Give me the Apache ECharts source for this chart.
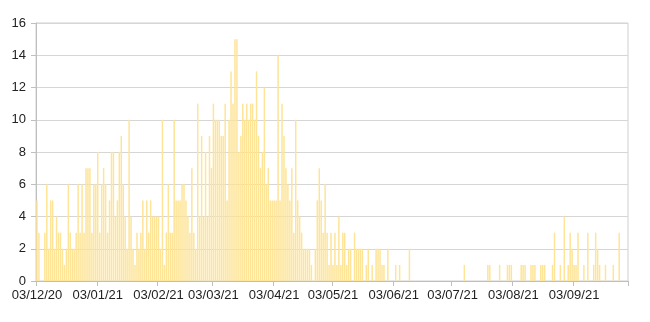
<!DOCTYPE html>
<html>
<head>
<meta charset="utf-8">
<script src="https://cdn.jsdelivr.net/npm/echarts@6/dist/echarts.min.js"></script>
<style>
html,body{margin:0;padding:0;background:#fff;}
#chart{width:650px;height:322px;}
</style>
</head>
<body>
<div id="chart"></div>
<script>
// Daily values from 03/12/2020 to 30/09/2021
var startDate = [2020, 11, 3]; // year, month index, day
var counts = [
5,3,0,0,3,6,2,5,5,2,
4,3,3,2,1,2,6,3,2,2,
3,6,3,6,3,7,7,7,3,6,
6,8,3,6,7,6,3,5,8,8,
4,5,8,9,6,4,2,10,4,2,
1,3,2,3,5,2,5,3,5,4,
4,4,4,2,10,1,3,6,3,3,
10,5,5,5,6,6,5,4,3,7,
3,2,11,4,9,4,8,4,9,7,
11,10,10,10,9,9,11,5,10,13,
11,15,15,8,9,11,10,11,10,11,
11,10,13,9,7,8,12,6,7,5,
5,5,5,14,5,11,9,7,6,5,
7,3,10,5,4,3,2,2,2,2,
1,0,2,5,7,5,3,6,3,1,
3,1,3,1,4,1,3,3,1,2,
2,0,3,2,2,2,2,0,1,2,
0,1,0,2,2,2,1,1,0,2,
0,0,0,1,0,1,0,0,0,0,
2,0,0,0,0,0,0,0,0,0,
0,0,0,0,0,0,0,0,0,0,
0,0,0,0,0,0,0,0,1,0,
0,0,0,0,0,0,0,0,0,0,
1,1,0,0,0,0,1,0,0,0,
1,1,1,0,0,0,0,1,1,1,
0,0,1,1,1,0,0,1,1,1,
0,0,0,1,3,0,0,1,0,4,
0,1,3,2,1,1,3,0,0,1,
0,3,0,0,1,3,2,1,0,0,
1,0,0,0,1,0,0,3,0,0,
0,0
];
var yTicks = [0,2,4,6,8,10,12,14,16];

function pad(n){return (n<10?'0':'')+n;}
var categories = [];
for (var i = 0; i < counts.length; i++) {
  var dt = new Date(startDate[0], startDate[1], startDate[2] + i);
  categories.push(pad(dt.getDate()) + '/' + pad(dt.getMonth()+1) + '/' + String(dt.getFullYear()).slice(2));
}
function isTick(idx){ return categories[idx].slice(0,3) === '03/'; }

var chart = echarts.init(document.getElementById('chart'), null, {renderer:'canvas'});
chart.setOption({
  animation: false,
  backgroundColor: '#ffffff',
  grid: {left: 36, right: 22, top: 23, bottom: 41, show: true, borderColor: '#d0d0d0', borderWidth: 1},
  xAxis: {
    type: 'category',
    data: categories,
    boundaryGap: true,
    axisLine: {show: true, lineStyle: {color: '#bfbfbf', width: 1}},
    axisTick: {show: true, interval: function(idx){return isTick(idx);}, length: 5, lineStyle: {color: '#bfbfbf'}},
    axisLabel: {interval: function(idx){return isTick(idx);}, color: '#222', fontFamily: 'Liberation Sans, Arial, sans-serif', fontSize: 13, margin: 8},
    splitLine: {show: false}
  },
  yAxis: {
    type: 'value',
    min: yTicks[0],
    max: yTicks[yTicks.length-1],
    interval: 2,
    axisLine: {show: true, lineStyle: {color: '#bfbfbf', width: 1}},
    axisTick: {show: true, length: 5, lineStyle: {color: '#bfbfbf'}},
    axisLabel: {color: '#222', fontFamily: 'Liberation Sans, Arial, sans-serif', fontSize: 13, margin: 10},
    splitLine: {show: true, lineStyle: {color: '#d6d6d6', width: 1}}
  },
  series: [{
    type: 'bar',
    data: counts,
    barCategoryGap: '25%',
    itemStyle: {color: '#FEE496'}
  }]
});
</script>
</body>
</html>
